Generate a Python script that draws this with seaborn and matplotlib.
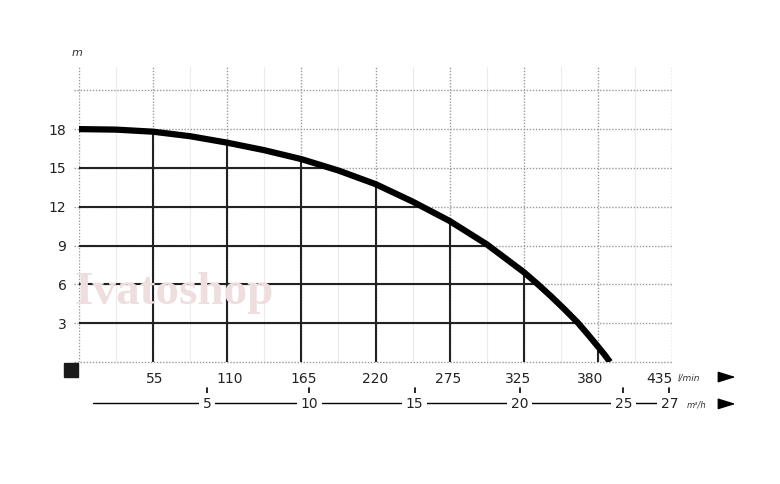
import numpy as np
import pandas as pd
import seaborn as sns
import matplotlib.pyplot as plt

# Pump curve (flow on the l/min axis scale, head in m)
flow = [0, 27.5, 55, 82.5, 110, 137.5, 165, 192.5, 220, 247.5, 275, 302.5, 330, 340, 350, 360, 370, 378, 385, 390, 394]
head = [18.0, 17.96, 17.8, 17.45, 16.95, 16.37, 15.68, 14.8, 13.75, 12.4, 10.9, 9.1, 6.95, 6.05, 5.1, 4.1, 3.05, 2.08, 1.2, 0.56, 0.0]

# l/min axis: grid lines (evenly spaced) and the labels printed under them
grid_pos = [55, 110, 165, 220, 275, 330, 385, 440]
lpm_labels = ["55", "110", "165", "220", "275", "325", "380", "435"]
lpm_label_pos = [56, 112, 167, 220, 274, 326, 379, 431]

# m3/h secondary scale: labels and where they sit on the l/min scale
m3h_labels = ["5", "10", "15", "20", "25", "27"]
m3h_pos = [95, 171, 249, 327, 404, 438]

head_ticks = [3, 6, 9, 12, 15, 18]

df = pd.DataFrame({"flow": flow, "head": head})

sns.set_theme(style="white")
plt.rcParams["font.family"] = ["DejaVu Sans"]

fig = plt.figure(figsize=(7.8, 4.84), dpi=100)
ax = fig.add_axes([79 / 780, 1 - 362 / 484, 593 / 780, 295 / 484])
xmax, ymax = 440, 22.8
ax.set_xlim(0, xmax)
ax.set_ylim(0, ymax)
for s in ax.spines.values():
    s.set_visible(False)

# faint minor lines
for x in np.arange(27.5, xmax, 55):
    ax.axvline(x, color="#ececec", lw=0.8, zorder=0)

# dotted grid
gx = [0] + grid_pos
gy = np.arange(0, 22, 3)
ax.vlines(gx, 0, ymax, colors="#9a9a9a", linestyles=(0, (1, 1.2)), lw=1.0, zorder=1)
ax.hlines(gy, -4, xmax, colors="#9a9a9a", linestyles=(0, (1, 1.2)), lw=1.0, zorder=1, clip_on=False)

# solid guide lines under the curve
fa = np.array(flow, dtype=float)
ha = np.array(head, dtype=float)
for x in grid_pos:
    if x < fa[-1]:
        ax.plot([x, x], [0, np.interp(x, fa, ha)], color="#222222", lw=1.5, zorder=2)
for y in head_ticks[:-1]:
    xe = np.interp(y, ha[::-1], fa[::-1])
    ax.plot([0, xe], [y, y], color="#222222", lw=1.5, zorder=2)

sns.lineplot(data=df, x="flow", y="head", ax=ax, color="black", lw=4.5,
             sort=False, zorder=3, solid_capstyle="butt", solid_joinstyle="round")

ax.set_xlabel("")
ax.set_ylabel("")
ax.set_xticks(lpm_label_pos, lpm_labels)
ax.set_yticks(head_ticks, [str(t) for t in head_ticks])
ax.tick_params(axis="both", length=0, labelsize=10, colors="#222222")
ax.tick_params(axis="x", pad=7)
ax.tick_params(axis="y", pad=9)

tr = ax.get_xaxis_transform()
# units and arrows
ax.text(444, -0.053, "l/min", transform=tr, fontsize=6.5, style="italic",
        va="center", ha="left", color="#333333")
for yy in (-0.051, -0.142):
    ax.annotate("", xy=(1.112, yy), xytext=(1.074, yy), xycoords="axes fraction",
                arrowprops=dict(arrowstyle="-|>,head_length=0.9,head_width=0.28",
                                color="black", lw=1.0))

# m3/h scale
ax.plot([10.4, 436], [-0.139, -0.139], transform=tr, color="black", lw=1.0, clip_on=False, zorder=1)
for p, lab in zip(m3h_pos, m3h_labels):
    ax.text(p, -0.142, lab, transform=tr, fontsize=10, ha="center", va="center",
            color="#222222", bbox=dict(facecolor="white", edgecolor="none", pad=2.5))
    ax.plot([p, p], [-0.088, -0.106], transform=tr, color="black", lw=1.2, clip_on=False)
ax.text(451, -0.146, "m³/h", transform=tr, fontsize=6, style="italic",
        va="center", ha="left", color="#333333", bbox=dict(facecolor="white", edgecolor="none", pad=1))

# origin square
ax.plot([-0.0135], [-0.027], transform=ax.transAxes, marker="s", ms=10,
        color="#1a1a1a", clip_on=False)

fig.text(77 / 780, 1 - 53 / 484, "m", fontsize=8, style="italic", ha="center",
         va="center", color="#333333")
fig.text(174 / 780, 1 - 293 / 484, "Ivatoshop", fontsize=34, family="Liberation Serif",
         weight="bold", ha="center", va="center", color="#efdede", zorder=0)

fig.savefig("out.png", dpi=100, facecolor="white")
